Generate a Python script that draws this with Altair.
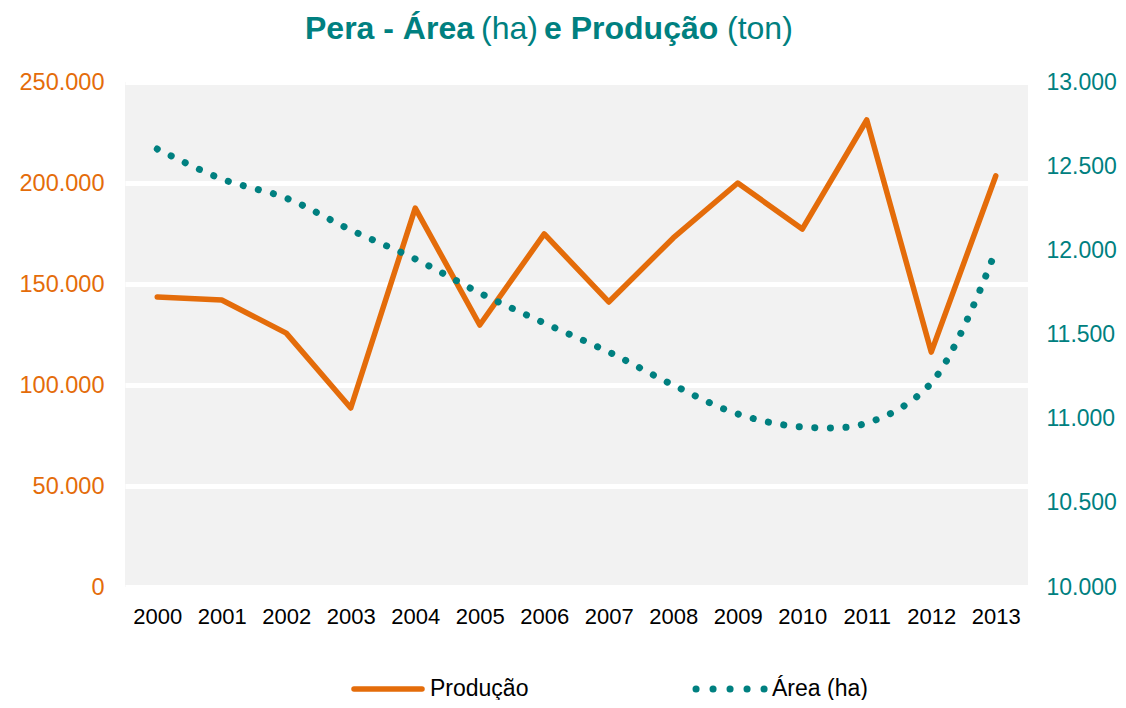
import altair as alt
import pandas as pd

years = [str(y) for y in range(2000, 2014)]
producao = [143600, 142100, 125700, 88600, 187600, 129700, 174800,
            141100, 172800, 200000, 177200, 231200, 116300, 203500]
area = [12602, 12424, 12310, 12121, 11949, 11747, 11568,
        11396, 11200, 11028, 10951, 10974, 11212, 12000]

left_ticks = [0, 50000, 100000, 150000, 200000, 250000]
right_ticks = [10000, 10500, 11000, 11500, 12000, 12500, 13000]

ORANGE = "#E46C0A"
TEAL = "#008080"
FONT = "Liberation Sans"
num_expr = "replace(format(datum.value, ','), ',', '.')"

df = pd.DataFrame({"Ano": years, "Produção": producao, "Área": area})

x_enc = alt.X("Ano:N", scale=alt.Scale(type="point", padding=0.5), sort=years,
              axis=alt.Axis(title=None, labelAngle=0, ticks=False, domain=False,
                            labelFontSize=22, labelColor="#000000", labelFont=FONT,
                            labelPadding=19, grid=False))

prod = alt.Chart(df).mark_line(color=ORANGE, strokeWidth=5.5, strokeJoin="round",
                               strokeCap="round").encode(
    x=x_enc,
    y=alt.Y("Produção:Q", scale=alt.Scale(domain=[0, 250000], nice=False, zero=False),
            axis=alt.Axis(title=None, orient="left", values=left_ticks, labelExpr=num_expr,
                          ticks=False, domain=False, grid=True, gridColor="#FFFFFF",
                          gridWidth=5, gridOpacity=1, labelColor=ORANGE, labelFontSize=23.5,
                          labelFont=FONT, labelPadding=21)),
)

ar = alt.Chart(df).mark_line(color=TEAL, strokeWidth=7, strokeCap="round",
                             strokeDash=[0.1, 15.5], interpolate="catmull-rom").encode(
    x=x_enc,
    y=alt.Y("Área:Q", scale=alt.Scale(domain=[10000, 13000], nice=False, zero=False),
            axis=alt.Axis(title=None, orient="right", values=right_ticks, labelExpr=num_expr,
                          ticks=False, domain=False, grid=False, labelColor=TEAL,
                          labelFontSize=23, labelFont=FONT, labelPadding=18)),
)

one = alt.Data(values=[{}])

title_parts = [
    ("Pera - Área", "bold", 180),
    ("(ha)", "normal", 356),
    ("e Produção", "bold", 419),
    ("(ton)", "normal", 602),
]
title_layers = [
    alt.Chart(one).mark_text(text=t, font=FONT, fontSize=32, fontWeight=w, color=TEAL,
                             align="left", baseline="alphabetic").encode(
        x=alt.value(xp), y=alt.value(-43))
    for t, w, xp in title_parts
]

leg_line = alt.Chart(one).mark_rule(color=ORANGE, strokeWidth=5.5, strokeCap="round").encode(
    x=alt.value(229), x2=alt.value(297), y=alt.value(607))
leg_text1 = alt.Chart(one).mark_text(text="Produção", font=FONT, fontSize=23, color="#000000",
                                     align="left", baseline="middle").encode(
    x=alt.value(305), y=alt.value(607))
leg_dots = alt.Chart(one).mark_rule(color=TEAL, strokeWidth=7, strokeCap="round",
                                    strokeDash=[0.1, 16.9]).encode(
    x=alt.value(571), x2=alt.value(640), y=alt.value(607))
leg_text2 = alt.Chart(one).mark_text(text="Área (ha)", font=FONT, fontSize=23, color="#000000",
                                     align="left", baseline="middle").encode(
    x=alt.value(647), y=alt.value(607))

main = alt.layer(prod, ar).resolve_scale(y="independent")

chart = alt.layer(main, *title_layers, leg_line, leg_text1, leg_dots, leg_text2).properties(
    width=903, height=505,
    autosize=alt.AutoSizeParams(type="none"),
    padding={"left": 117, "top": 74, "right": 90, "bottom": 113},
    background="#FFFFFF",
).configure_view(fill="#F2F2F2", strokeWidth=0)

chart.save("out.html", embed_options={"renderer": "svg", "actions": False})
